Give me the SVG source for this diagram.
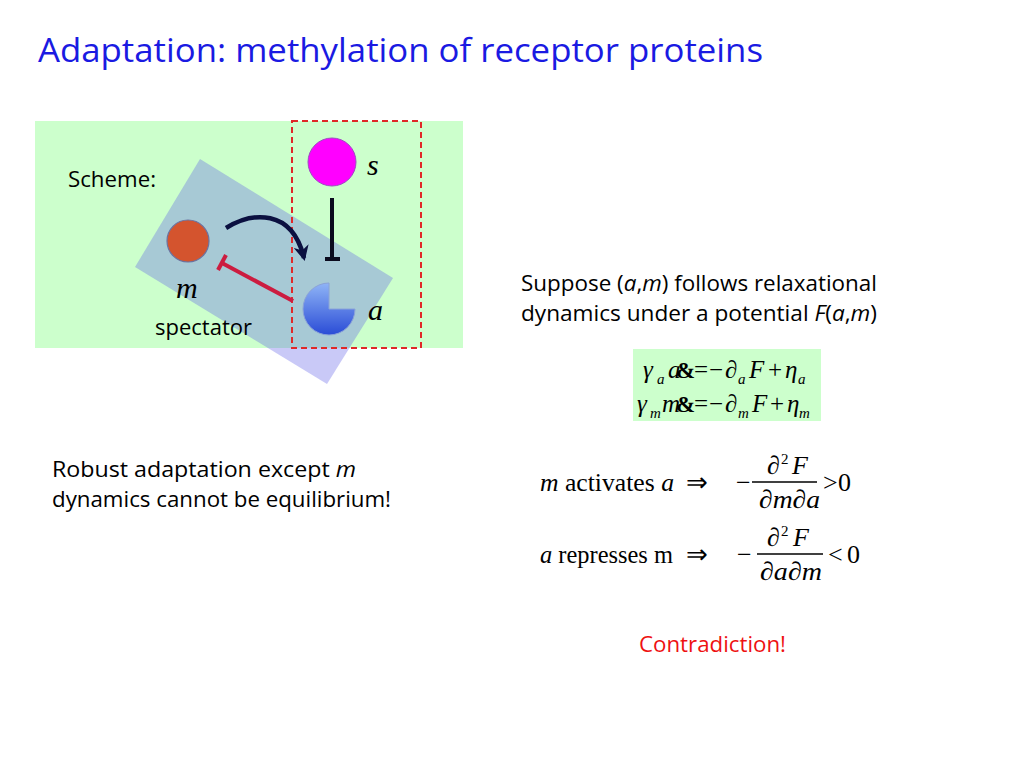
<svg xmlns="http://www.w3.org/2000/svg" width="1024" height="768" viewBox="0 0 1024 768">
<defs>
<style>
.sans{font-family:"Open Sans","Liberation Sans",sans-serif;fill:#000}
.serif{font-family:"Liberation Serif","Times New Roman",serif;fill:#000}
.it{font-style:italic}
.sub{font-size:15px;font-style:italic}
.amp{font-weight:bold;font-size:23px;font-style:normal}
</style>
<linearGradient id="pacGrad" x1="0" y1="0" x2="0" y2="1">
<stop offset="0" stop-color="#8fb4f6"/>
<stop offset="1" stop-color="#2a4cd6"/>
</linearGradient>
<marker id="arrowHead" viewBox="0 0 10 10" refX="8" refY="5" markerWidth="3.4" markerHeight="3.4" orient="auto" markerUnits="strokeWidth">
<path d="M0,0 L10,5 L0,10 L3,5 Z" fill="#0b1040"/>
</marker>
</defs>
<rect width="1024" height="768" fill="#fff"/>

<text class="sans" x="38" y="62" font-size="33" style="fill:#1a1ae2" textLength="725" lengthAdjust="spacingAndGlyphs">Adaptation: methylation of receptor proteins</text>

<g id="scheme-background">
<rect x="35" y="121" width="428" height="227" fill="#ccffcc"/>
<polygon points="200,159 393,278 327,384 135,267" fill="#5a5ae8" fill-opacity="0.33"/>
<rect x="292" y="121" width="129" height="227" fill="none" stroke="#e02828" stroke-width="2" stroke-dasharray="6,4"/>
<text class="sans" x="68" y="187" font-size="22" textLength="88" lengthAdjust="spacingAndGlyphs">Scheme:</text>
</g>

<g id="connectors">
<path d="M226,228 C252,212 292,208 304,258" fill="none" stroke="#0b1040" stroke-width="4.5" marker-end="url(#arrowHead)"/>
<line x1="332" y1="198" x2="332" y2="259" stroke="#0b0b1e" stroke-width="4"/>
<line x1="325" y1="259" x2="340" y2="259" stroke="#0b0b1e" stroke-width="4"/>
<line x1="293" y1="301" x2="222" y2="263" stroke="#cc1c40" stroke-width="4"/>
<line x1="218" y1="270" x2="226" y2="255" stroke="#cc1c40" stroke-width="4"/>
</g>

<g id="node-s">
<circle cx="332" cy="162" r="24" fill="#ff00ff" stroke="#9a50c0" stroke-width="1"/>
<text class="serif it" x="367" y="175" font-size="30">s</text>
</g>

<g id="node-m">
<circle cx="188" cy="241" r="21" fill="#d4542e" stroke="#6a72a0" stroke-width="1.2"/>
<text class="serif it" x="176" y="298" font-size="30">m</text>
<text class="sans" x="155" y="335" font-size="22" textLength="97" lengthAdjust="spacingAndGlyphs">spectator</text>
</g>

<g id="node-a">
<path d="M329,309 L329,283 A26,26 0 1,0 355,309 Z" fill="url(#pacGrad)" stroke="#8aa2d8" stroke-width="1"/>
<text class="serif it" x="368" y="320" font-size="30">a</text>
</g>

<g id="text-suppose">
<text class="sans" x="521" y="291" font-size="22.5" textLength="356" lengthAdjust="spacingAndGlyphs">Suppose (<tspan class="it">a</tspan>,<tspan class="it">m</tspan>) follows relaxational</text>
<text class="sans" x="521" y="321" font-size="22.5" textLength="356" lengthAdjust="spacingAndGlyphs">dynamics under a potential <tspan class="it">F</tspan>(<tspan class="it">a</tspan>,<tspan class="it">m</tspan>)</text>
</g>

<g id="equations-dynamics">
<rect x="633" y="349" width="188" height="72" fill="#ccffcc"/>
<text class="serif" font-size="25"><tspan class="it" x="643" y="378">γ</tspan><tspan class="sub" x="657" y="384">a</tspan><tspan class="it" x="668" y="378">a</tspan><tspan class="amp" x="676" y="378">&amp;</tspan><tspan x="694" y="378">=</tspan><tspan x="709" y="378">−</tspan><tspan class="it" x="725" y="378">∂</tspan><tspan class="sub" x="738" y="384">a</tspan><tspan class="it" x="749" y="378">F</tspan><tspan x="768" y="378">+</tspan><tspan class="it" x="785" y="378">η</tspan><tspan class="sub" x="798" y="384">a</tspan></text>
<text class="serif" font-size="25"><tspan class="it" x="637" y="412">γ</tspan><tspan class="sub" x="650" y="418">m</tspan><tspan class="it" x="662" y="412">m</tspan><tspan class="amp" x="676" y="412">&amp;</tspan><tspan x="694" y="412">=</tspan><tspan x="709" y="412">−</tspan><tspan class="it" x="725" y="412">∂</tspan><tspan class="sub" x="738" y="418">m</tspan><tspan class="it" x="752" y="412">F</tspan><tspan x="770" y="412">+</tspan><tspan class="it" x="787" y="412">η</tspan><tspan class="sub" x="799" y="418">m</tspan></text>
</g>

<g id="text-robust">
<text class="sans" x="52" y="477" font-size="22.5" textLength="304" lengthAdjust="spacingAndGlyphs">Robust adaptation except <tspan class="it">m</tspan></text>
<text class="sans" x="52" y="507" font-size="22.5" textLength="339" lengthAdjust="spacingAndGlyphs">dynamics cannot be equilibrium!</text>
</g>

<g id="equations-coupling" class="serif" font-size="26">
<text x="540" y="491" textLength="134" lengthAdjust="spacingAndGlyphs"><tspan class="it">m</tspan> activates <tspan class="it">a</tspan></text>
<text x="686" y="491">⇒</text>
<text x="736" y="491">−</text>
<text class="it" x="767" y="474">∂</text>
<text x="781" y="464" font-size="15">2</text>
<text class="it" x="792" y="474">F</text>
<line x1="752" y1="482" x2="817" y2="482" stroke="#000" stroke-width="1.3"/>
<text class="it" x="759" y="508" textLength="61" lengthAdjust="spacingAndGlyphs">∂m∂a</text>
<text x="823" y="491">&gt;</text>
<text x="838" y="491">0</text>

<text x="540" y="563" textLength="133" lengthAdjust="spacingAndGlyphs"><tspan class="it">a</tspan> represses m</text>
<text x="686" y="563">⇒</text>
<text x="737" y="563">−</text>
<text class="it" x="767" y="546">∂</text>
<text x="781" y="536" font-size="15">2</text>
<text class="it" x="793" y="546">F</text>
<line x1="757" y1="554" x2="823" y2="554" stroke="#000" stroke-width="1.3"/>
<text class="it" x="760" y="580" textLength="62" lengthAdjust="spacingAndGlyphs">∂a∂m</text>
<text x="828" y="563">&lt;</text>
<text x="847" y="563">0</text>
</g>

<text class="sans" x="639" y="652" font-size="22.5" style="fill:#ee1111" textLength="147" lengthAdjust="spacingAndGlyphs">Contradiction!</text>
</svg>
